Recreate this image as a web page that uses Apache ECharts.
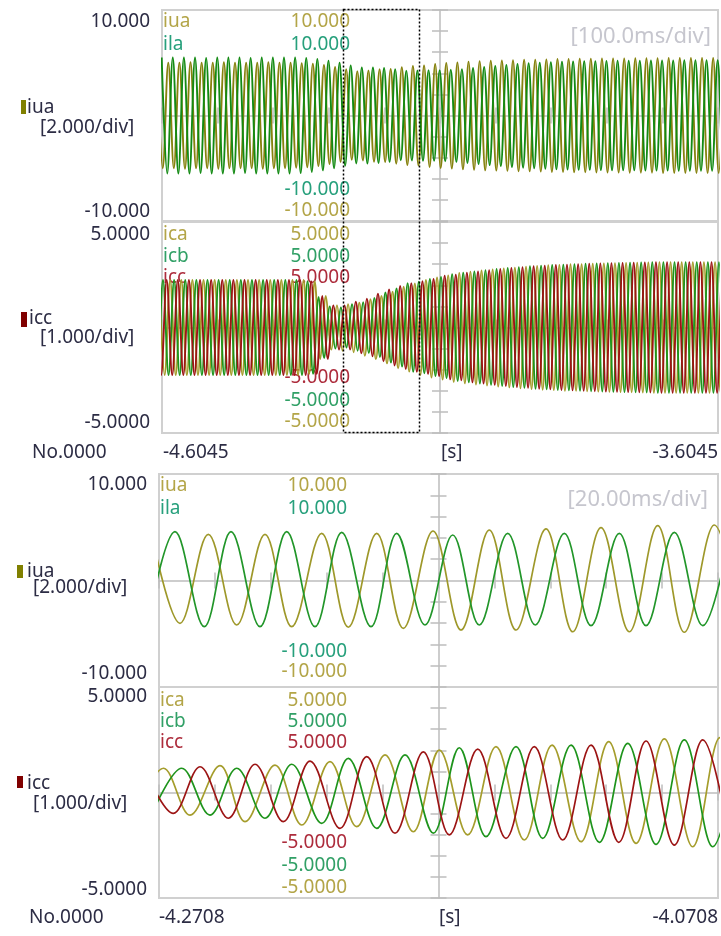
<!DOCTYPE html>
<html><head><meta charset="utf-8">
<script src="https://cdn.jsdelivr.net/npm/echarts@6/dist/echarts.min.js"></script>
<style>html,body{margin:0;padding:0;background:#fff}#c{width:721px;height:936px}</style>
</head><body><div id="c"></div>
<script>
// ================= DATA =================
// Overview window: -4.6045 s .. -3.6045 s (1000 ms), 50 Hz waves.
const OVERVIEW_START_S = -4.6045;
const OVERVIEW_MS = 1000;
const CYCLE_MS = 20;
const HALF_PERIOD_MS = 10;
// peak amplitude read per 20 ms cycle (50 cycles)
const iuaAmp = [5.0,5.0,5.05,5.0,5.0,5.05,5.0,5.0,5.0,5.05,5.0,5.0,4.95,4.9,4.8,4.6,4.4,4.2,4.26,4.38,
                4.41,4.57,4.7,4.75,4.88,4.98,5.03,5.1,5.15,5.2,5.22,5.25,5.28,5.3,5.32,5.35,5.35,5.38,5.38,5.4,
                5.4,5.4,5.42,5.42,5.42,5.45,5.45,5.45,5.45,5.45];
const ilaAmp = [5.5,5.5,5.5,5.45,5.5,5.5,5.5,5.45,5.5,5.5,5.5,5.5,5.45,5.35,5.2,5.0,4.75,4.55,4.55,4.5,
                4.4,4.25,4.27,4.3,4.3,4.35,4.4,4.5,4.6,4.7,4.8,4.88,4.95,5.0,5.05,5.1,5.12,5.15,5.15,5.18,
                5.2,5.2,5.2,5.22,5.22,5.22,5.25,5.25,5.25,5.25];
const icaAmp = [2.25,2.25,2.25,2.25,2.25,2.25,2.25,2.25,2.25,2.25,2.25,2.25,2.25,2.2,1.5,1.05,1.1,1.17,1.34,1.5,
                1.7,1.93,2.09,2.25,2.37,2.47,2.58,2.65,2.7,2.75,2.8,2.84,2.88,2.92,2.95,2.97,3.0,3.0,3.02,3.04,
                3.05,3.06,3.07,3.08,3.1,3.1,3.1,3.1,3.1,3.1];
const icbAmp = [2.25,2.25,2.25,2.25,2.25,2.25,2.25,2.25,2.25,2.25,2.25,2.25,2.25,2.2,1.45,1.0,0.95,1.1,1.2,1.4,
                1.66,1.85,2.1,2.17,2.3,2.4,2.53,2.6,2.66,2.72,2.77,2.82,2.86,2.9,2.93,2.96,2.98,3.0,3.02,3.03,
                3.05,3.06,3.07,3.08,3.1,3.1,3.1,3.1,3.1,3.1];
const iccAmp = [2.25,2.25,2.25,2.25,2.25,2.25,2.25,2.25,2.25,2.25,2.25,2.25,2.25,2.2,1.5,1.05,1.05,1.22,1.36,1.6,
                1.8,1.97,2.1,2.2,2.3,2.46,2.5,2.6,2.66,2.72,2.77,2.82,2.86,2.9,2.93,2.96,2.98,3.0,3.02,3.04,
                3.05,3.06,3.07,3.08,3.1,3.1,3.1,3.1,3.1,3.1];
// time of first positive peak in the overview window (ms)
const firstPeakMs = {iua: 11.3, ila: 19.4, ica: 14.7, icb: 1.8, icc: 8.4};
// zoom-selection rectangle on the overview (s)
const selection = [-4.2790, -4.1432];

// Detail window: -4.2708 s .. -4.0708 s (200 ms); extrema (ms from start, value)
const DETAIL_MS = 200;
const iuaT = [-2.54,7.51,17.64,27.80,37.92,47.48,58.21,67.73,77.89,87.41,98.03,108.05,118.18,127.73,138.46,148.02,158.14,168.27,178.43,187.94,198.68,208.7];
const iuaV = [4.3,-4.02,4.34,-4.18,4.34,-4.34,4.43,-4.39,4.43,-4.49,4.65,-4.65,4.74,-4.65,4.84,-4.81,4.96,-4.81,5.15,-4.86,5.21,-4.9];
const ilaT = [-4.22,5.72,16.21,25.76,36.14,45.69,55.81,65.37,75.85,85.04,95.17,105.08,114.6,124.76,134.63,145.01,154.56,164.69,174.24,184.37,194.53,204.47];
const ilaV = [-4.3,4.58,-4.34,4.58,-4.34,4.58,-4.34,4.52,-4.34,4.43,-4.18,4.27,-4.18,4.43,-4.18,4.43,-4.24,4.43,-4.24,4.52,-4.24,4.5];
const icaT = [-8.4,1.61,11.09,21.82,30.77,41.5,51.06,61.18,70.73,80.86,90.98,100.29,110.45,120.57,130.7,140.61,150.98,160.89,170.66,180.79,190.94,200.72,210.7];
const icaV = [-1.0,1.15,-1.07,1.27,-1.38,1.30,-1.54,1.46,-1.62,1.78,-1.86,2.01,-2.01,2.17,-2.25,2.25,-2.33,2.41,-2.41,2.54,-2.57,2.6,-2.6];
const icbT = [-1.79,8.12,18.25,27.8,37.92,47.48,58.21,67.73,77.89,88.01,98.14,107.44,116.99,127.73,137.28,147.41,157.53,167.69,177.82,187.94,198.1,208.05];
const icbV = [-0.8,1.15,-1.07,1.15,-1.22,1.34,-1.46,1.62,-1.70,1.78,-1.93,2.12,-2.09,2.17,-2.17,2.25,-2.36,2.33,-2.46,2.49,-2.57,2.6];
const iccT = [-5.01,5.12,14.67,24.79,34.35,44.47,54.03,64.76,74.31,84.44,94.56,103.86,114.03,124.15,134.28,144.44,154.56,164.47,174.24,184.37,194.53,204.47];
const iccV = [1.1,-0.99,1.22,-1.22,1.34,-1.38,1.49,-1.70,1.70,-1.93,1.93,-2.01,2.06,-2.17,2.17,-2.25,2.25,-2.36,2.44,-2.49,2.49,-2.5];

// Text labels
const VOLT_NAMES = ['iua', 'ila'];
const CUR_NAMES = ['ica', 'icb', 'icc'];
const VOLT_RANGE = ['10.000', '-10.000'];
const CUR_RANGE = ['5.0000', '-5.0000'];
const VOLT_SCALE = '[2.000/div]';
const CUR_SCALE = '[1.000/div]';
const TIMEBASE = ['[100.0ms/div]', '[20.00ms/div]'];
const X_LABELS_OVERVIEW = ['No.0000', '-4.6045', '[s]', '-3.6045'];
const X_LABELS_DETAIL = ['No.0000', '-4.2708', '[s]', '-4.0708'];

// ================= STYLE / LAYOUT =================
const C = {
  iua: '#86820e', ila: '#138a13', ica: '#a59d2c', icb: '#1e941c', icc: '#9c1414',
  iuaD: '#9e982a', ilaD: '#22962a'
};
const TXT = {
  dark: '#2c2c44', olive: '#b3a548', teal: '#27a07c', green: '#31a066', red: '#ad2c3c', light: '#c6c6ce'
};
const FONT = '"Noto Sans", "Open Sans", sans-serif';
const GRIDS = [
  {left: 162, top: 10, width: 556, height: 211},
  {left: 162, top: 222, width: 556, height: 211},
  {left: 159, top: 474, width: 559, height: 213},
  {left: 159, top: 687, width: 559, height: 211}
];
const YR = [[-10, 10, 2], [-5, 5, 1], [-10, 10, 2], [-5, 5, 1]];
const XR = [[0, OVERVIEW_MS, 100], [0, OVERVIEW_MS, 100], [0, DETAIL_MS, 20], [0, DETAIL_MS, 20]];
const AX = '#bdbdbd';

function overviewPoints(amp, t0) {
  const pts = [];
  for (let j = -2; ; j++) {
    const t = t0 + j * HALF_PERIOD_MS;
    if (t > OVERVIEW_MS + 2 * HALF_PERIOD_MS) break;
    const c = Math.min(amp.length - 1, Math.max(0, Math.floor(t / CYCLE_MS)));
    pts.push([t, (j % 2 === 0 ? 1 : -1) * amp[c]]);
  }
  return pts;
}
const zip = (T, V) => T.map((t, i) => [t, V[i]]);

const grids = GRIDS.map(g => Object.assign({show: true, borderColor: '#d0d0d0', borderWidth: 2, backgroundColor: '#fff', containLabel: false, outerBoundsMode: 'none'}, g));
const xAxes = [], yAxes = [];
GRIDS.forEach((g, i) => {
  ['bottom', 'top'].forEach((pos, k) => {
    xAxes.push({gridIndex: i, type: 'value', min: XR[i][0], max: XR[i][1], interval: XR[i][2], position: pos,
      offset: -g.height / 2,
      axisLine: {show: k === 0, onZero: false, lineStyle: {color: AX, width: 1.5}},
      axisTick: {show: true, length: 8, lineStyle: {color: AX, width: 1.5}},
      axisLabel: {show: false}, splitLine: {show: false}});
  });
  ['left', 'right'].forEach((pos, k) => {
    yAxes.push({gridIndex: i, type: 'value', min: YR[i][0], max: YR[i][1], interval: YR[i][2], position: pos,
      offset: -g.width / 2,
      axisLine: {show: k === 0, onZero: false, lineStyle: {color: AX, width: 1.5}},
      axisTick: {show: true, length: 8, lineStyle: {color: AX, width: 1.5}},
      axisLabel: {show: false}, splitLine: {show: false}});
  });
});

function line(name, data, gi, color, width) {
  return {name, type: 'line', data, xAxisIndex: gi * 2, yAxisIndex: gi * 2, showSymbol: false, symbol: 'none',
    smooth: 0.36, clip: true, lineStyle: {color, width}, itemStyle: {color}, animation: false, silent: true};
}

const series = [
  line('iua', overviewPoints(iuaAmp, firstPeakMs.iua), 0, C.iua, 1.9),
  line('ila', overviewPoints(ilaAmp, firstPeakMs.ila), 0, C.ila, 1.9),
  line('ica', overviewPoints(icaAmp, firstPeakMs.ica), 1, C.ica, 1.9),
  line('icb', overviewPoints(icbAmp, firstPeakMs.icb), 1, C.icb, 1.9),
  line('icc', overviewPoints(iccAmp, firstPeakMs.icc), 1, C.icc, 1.9),
  line('iua', zip(iuaT, iuaV), 2, C.iuaD, 1.7),
  line('ila', zip(ilaT, ilaV), 2, C.ilaD, 1.7),
  line('ica', zip(icaT, icaV), 3, C.ica, 1.7),
  line('icb', zip(icbT, icbV), 3, C.icb, 1.7),
  line('icc', zip(iccT, iccV), 3, C.icc, 1.7)
];

// ---- graphic texts ----
const G = [];
function txt(text, x, y, align, fill, size) {
  G.push({type: 'text', x, y, z: 1, silent: true,
    style: {text, fill, align, verticalAlign: 'middle', fontSize: size || 19, fontFamily: FONT}});
}
function sq(x, y, w, h, fill) {
  G.push({type: 'rect', z: 1, silent: true, shape: {x, y, width: w, height: h}, style: {fill}});
}
// panel 1
txt(VOLT_RANGE[0], 150, 22, 'right', TXT.dark);
txt(VOLT_RANGE[1], 150, 212, 'right', TXT.dark);
sq(21, 100, 5, 14, '#808000');
txt(VOLT_NAMES[0], 27, 108, 'left', TXT.dark);
txt(VOLT_SCALE, 40, 128, 'left', TXT.dark);
txt(VOLT_NAMES[0], 163, 22, 'left', TXT.olive);
txt(VOLT_NAMES[1], 163, 45, 'left', TXT.teal);
txt(VOLT_RANGE[0], 350, 22, 'right', TXT.olive);
txt(VOLT_RANGE[0], 350, 45, 'right', TXT.teal);
txt(VOLT_RANGE[1], 350, 190, 'right', TXT.teal);
txt(VOLT_RANGE[1], 350, 211, 'right', TXT.olive);
txt(TIMEBASE[0], 711, 37, 'right', TXT.light, 22);
// panel 2
txt(CUR_RANGE[0], 150, 235, 'right', TXT.dark);
txt(CUR_RANGE[1], 150, 423, 'right', TXT.dark);
sq(21, 312, 6, 15, '#800000');
txt(CUR_NAMES[2], 29, 319, 'left', TXT.dark);
txt(CUR_SCALE, 40, 338, 'left', TXT.dark);
[[235, TXT.olive], [257, TXT.green], [278, TXT.red]].forEach((r, i) => {
  txt(CUR_NAMES[i], 163, r[0], 'left', r[1]);
  txt(CUR_RANGE[0], 350, r[0], 'right', r[1]);
});
[[378, TXT.red], [401, TXT.green], [422, TXT.olive]].forEach(r => txt(CUR_RANGE[1], 350, r[0], 'right', r[1]));
txt(X_LABELS_OVERVIEW[0], 32, 453, 'left', TXT.dark);
txt(X_LABELS_OVERVIEW[1], 163, 453, 'left', TXT.dark);
txt(X_LABELS_OVERVIEW[2], 441, 453, 'left', TXT.dark);
txt(X_LABELS_OVERVIEW[3], 718, 453, 'right', TXT.dark);
// panel 3
txt(VOLT_RANGE[0], 147, 485, 'right', TXT.dark);
txt(VOLT_RANGE[1], 147, 674, 'right', TXT.dark);
sq(17, 565, 6, 13, '#808000');
txt(VOLT_NAMES[0], 27, 572, 'left', TXT.dark);
txt(VOLT_SCALE, 33, 588, 'left', TXT.dark);
txt(VOLT_NAMES[0], 160, 486, 'left', TXT.olive);
txt(VOLT_NAMES[1], 160, 509, 'left', TXT.teal);
txt(VOLT_RANGE[0], 347, 486, 'right', TXT.olive);
txt(VOLT_RANGE[0], 347, 509, 'right', TXT.teal);
txt(VOLT_RANGE[1], 347, 652, 'right', TXT.teal);
txt(VOLT_RANGE[1], 347, 672, 'right', TXT.olive);
txt(TIMEBASE[1], 708, 500, 'right', TXT.light, 22);
// panel 4
txt(CUR_RANGE[0], 147, 697, 'right', TXT.dark);
txt(CUR_RANGE[1], 147, 890, 'right', TXT.dark);
sq(17, 776, 6, 12, '#800000');
txt(CUR_NAMES[2], 27, 784, 'left', TXT.dark);
txt(CUR_SCALE, 33, 804, 'left', TXT.dark);
[[701, TXT.olive], [722, TXT.green], [743, TXT.red]].forEach((r, i) => {
  txt(CUR_NAMES[i], 160, r[0], 'left', r[1]);
  txt(CUR_RANGE[0], 347, r[0], 'right', r[1]);
});
[[843, TXT.red], [866, TXT.green], [888, TXT.olive]].forEach(r => txt(CUR_RANGE[1], 347, r[0], 'right', r[1]));
txt(X_LABELS_DETAIL[0], 29, 918, 'left', TXT.dark);
txt(X_LABELS_DETAIL[1], 159, 918, 'left', TXT.dark);
txt(X_LABELS_DETAIL[2], 439, 918, 'left', TXT.dark);
txt(X_LABELS_DETAIL[3], 718, 918, 'right', TXT.dark);

const chart = echarts.init(document.getElementById('c'), null, {renderer: 'canvas', width: 721, height: 936});
chart.setOption({
  animation: false,
  backgroundColor: '#fff',
  grid: grids, xAxis: xAxes, yAxis: yAxes, series,
  graphic: {elements: G}
});

// selection rectangle from data coordinates
const s0 = (selection[0] - OVERVIEW_START_S) * 1000;
const s1 = (selection[1] - OVERVIEW_START_S) * 1000;
const pA = chart.convertToPixel({xAxisIndex: 0, yAxisIndex: 0}, [s0, YR[0][1]]);
const pB = chart.convertToPixel({xAxisIndex: 2, yAxisIndex: 2}, [s1, YR[1][0]]);
G.push({type: 'rect', z: 10, silent: true,
  shape: {x: Math.round(pA[0]) + 0.5, y: Math.round(pA[1]) - 0.5, width: Math.round(pB[0] - pA[0]), height: Math.round(pB[1] - pA[1])},
  style: {fill: null, stroke: '#000', lineWidth: 1.5, lineDash: [2, 2]}});
chart.setOption({graphic: {elements: G}}, {replaceMerge: ['graphic']});
</script></body></html>
